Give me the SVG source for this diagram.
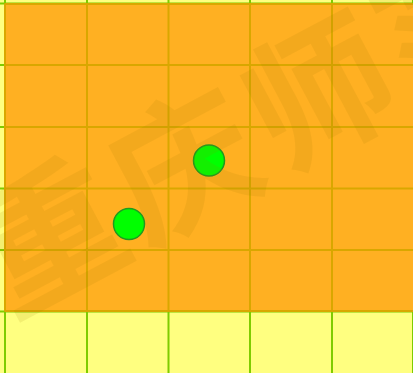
<svg xmlns="http://www.w3.org/2000/svg" width="413" height="373" viewBox="0 0 413 373">
<style>
.g{stroke:#7fcc00;stroke-width:2}
.o{stroke:#d9a700;stroke-width:2}
.pt{fill:#00ff00;stroke:#1f9a1f;stroke-width:1.5}
.wm{font-family:"Noto Sans CJK SC",sans-serif;font-size:145px;font-weight:700;letter-spacing:8px;fill:#a07800;fill-opacity:0.12}
</style>
<rect width="413" height="373" fill="#ffff80"/>
<g id="grid-yellow">
<line class="g" x1="5" y1="0" x2="5" y2="373"/>
<line class="g" x1="87" y1="0" x2="87" y2="373"/>
<line class="g" x1="168.5" y1="0" x2="168.5" y2="373"/>
<line class="g" x1="250" y1="0" x2="250" y2="373"/>
<line class="g" x1="332" y1="0" x2="332" y2="373"/>
<line class="g" x1="413" y1="0" x2="413" y2="373"/>
<line class="g" x1="0" y1="3.5" x2="413" y2="3.5"/>
<line class="g" x1="0" y1="65" x2="413" y2="65"/>
<line class="g" x1="0" y1="127" x2="413" y2="127"/>
<line class="g" x1="0" y1="188.5" x2="413" y2="188.5"/>
<line class="g" x1="0" y1="250" x2="413" y2="250"/>
<line class="g" x1="0" y1="311.5" x2="413" y2="311.5"/>
</g>
<g id="region">
<rect x="5" y="3.5" width="410" height="308" fill="#ffb022"/>
<line class="o" x1="5" y1="3.5" x2="5" y2="311.5"/>
<line class="o" x1="87" y1="3.5" x2="87" y2="311.5"/>
<line class="o" x1="168.5" y1="3.5" x2="168.5" y2="311.5"/>
<line class="o" x1="250" y1="3.5" x2="250" y2="311.5"/>
<line class="o" x1="332" y1="3.5" x2="332" y2="311.5"/>
<line class="o" x1="5" y1="4" x2="413" y2="4"/>
<line class="o" x1="5" y1="65" x2="413" y2="65"/>
<line class="o" x1="5" y1="127" x2="413" y2="127"/>
<line class="o" x1="5" y1="188.5" x2="413" y2="188.5"/>
<line class="o" x1="5" y1="250" x2="413" y2="250"/>
<line class="o" x1="5" y1="311" x2="413" y2="311"/>
</g>
<g id="point-a"><circle class="pt" cx="209" cy="160.5" r="15.5"/></g>
<g id="point-b"><circle class="pt" cx="129" cy="224" r="15.5"/></g>
<text class="wm" transform="translate(10,318) rotate(-28)">重庆师范大学</text>
</svg>
